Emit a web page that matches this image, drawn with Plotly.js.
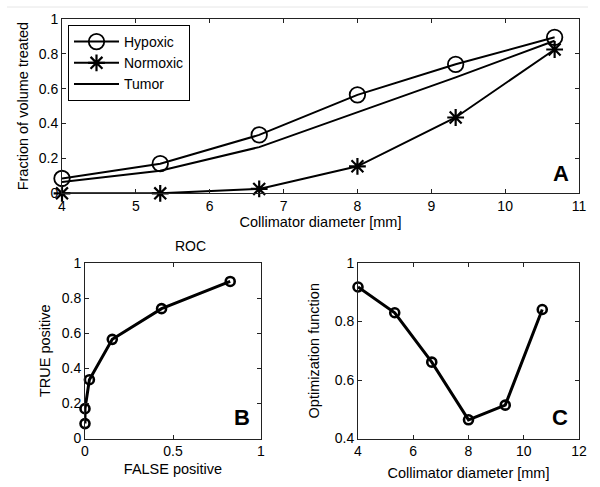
<!DOCTYPE html>
<html>
<head>
<meta charset="utf-8">
<script src="https://cdn.plot.ly/plotly-3.0.1.min.js"></script>
<style>html,body{margin:0;padding:0;background:#fff}#chart{width:600px;height:487px}</style>
</head>
<body>
<div id="chart"></div>
<script>
// Data
const collimator = [4, 5.33, 6.67, 8, 9.33, 10.67];
const hypoxic = [0.085, 0.17, 0.335, 0.565, 0.74, 0.895];
const normoxic = [0, 0, 0.025, 0.155, 0.435, 0.825];
const tumor = [0.065, 0.13, 0.265, 0.465, 0.665, 0.875];
const optimization = [0.918, 0.83, 0.661, 0.464, 0.514, 0.841];
const panelLabels = ["A", "B", "C"];

const FONT = "Liberation Sans, Arial, Helvetica, sans-serif";
const black = "#000";

const traces = [
  {x: collimator, y: hypoxic, name: "Hypoxic", mode: "lines+markers", xaxis: "x", yaxis: "y",
   line: {color: black, width: 2},
   marker: {symbol: "circle-open", size: 15.5, color: black, line: {width: 1.8, color: black}}, cliponaxis: false},
  {x: collimator, y: normoxic, name: "Normoxic", mode: "lines+markers", xaxis: "x", yaxis: "y",
   line: {color: black, width: 2},
   marker: {symbol: "asterisk-open", size: 14, color: black, line: {width: 2.2, color: black}}, cliponaxis: false},
  {x: collimator, y: tumor, name: "Tumor", mode: "lines", xaxis: "x", yaxis: "y",
   line: {color: black, width: 2}, cliponaxis: false},
  {x: normoxic, y: hypoxic, name: "ROC", mode: "lines+markers", xaxis: "x2", yaxis: "y2", showlegend: false,
   line: {color: black, width: 3},
   marker: {symbol: "circle-open", size: 9, color: black, line: {width: 2.6, color: black}}, cliponaxis: false},
  {x: collimator, y: optimization, name: "Optimization", mode: "lines+markers", xaxis: "x3", yaxis: "y3", showlegend: false,
   line: {color: black, width: 3},
   marker: {symbol: "circle-open", size: 9, color: black, line: {width: 2.6, color: black}}, cliponaxis: false}
];

const axisBase = {
  showline: true, mirror: "ticks", linecolor: "#222", linewidth: 1,
  ticks: "inside", ticklen: 4, tickcolor: "#222", tickwidth: 1,
  showgrid: false, zeroline: false,
  tickfont: {family: FONT, size: 14, color: black},
  fixedrange: true
};
function ax(extra) { return Object.assign({}, axisBase, extra); }
const titleFont = {family: FONT, size: 14.5, color: black};

const layout = {
  width: 600, height: 487,
  margin: {l: 0, r: 0, t: 0, b: 0},
  paper_bgcolor: "#fff", plot_bgcolor: "#fff",
  font: {family: FONT, color: black},
  showlegend: true,
  legend: {x: 68/600, y: 1 - 25/487, xanchor: "left", yanchor: "top", bordercolor: black, borderwidth: 1,
           bgcolor: "#fff", font: {family: FONT, size: 14, color: black}, tracegroupgap: 0, itemwidth: 45},
  xaxis: ax({domain: [62/600, 579/600], range: [4, 11], dtick: 1, anchor: "y",
             title: {text: "Collimator diameter [mm]", font: titleFont, standoff: 0}}),
  yaxis: ax({domain: [1 - 193.3/487, 1 - 19/487], range: [0, 1], dtick: 0.2, anchor: "x",
             title: {text: "Fraction of volume treated", font: titleFont, standoff: 6}}),
  xaxis2: ax({domain: [85/600, 261/600], range: [0, 1], dtick: 0.5, anchor: "y2",
              title: {text: "FALSE positive", font: titleFont, standoff: 5}}),
  yaxis2: ax({domain: [1 - 438.5/487, 1 - 263/487], range: [0, 1], dtick: 0.2, anchor: "x2",
              title: {text: "TRUE positive", font: titleFont, standoff: 7}}),
  xaxis3: ax({domain: [358/600, 579/600], range: [4, 12], dtick: 2, anchor: "y3",
              title: {text: "Collimator diameter [mm]", font: titleFont, standoff: 9}}),
  yaxis3: ax({domain: [1 - 438.5/487, 1 - 263/487], range: [0.4, 1], dtick: 0.2, anchor: "x3",
              title: {text: "Optimization function", font: titleFont, standoff: 11}}),
  annotations: [
    {text: "ROC", xref: "paper", yref: "paper", x: 173/600, y: 1 - 246/487, showarrow: false,
     font: {family: FONT, size: 14, color: black}},
    {text: "<b>" + panelLabels[0] + "</b>", xref: "paper", yref: "paper", x: 561/600, y: 1 - 173/487,
     xanchor: "center", yanchor: "middle", showarrow: false, font: {family: FONT, size: 22, color: black}},
    {text: "<b>" + panelLabels[1] + "</b>", xref: "paper", yref: "paper", x: 242/600, y: 1 - 417/487,
     xanchor: "center", yanchor: "middle", showarrow: false, font: {family: FONT, size: 22, color: black}},
    {text: "<b>" + panelLabels[2] + "</b>", xref: "paper", yref: "paper", x: 560/600, y: 1 - 417/487,
     xanchor: "center", yanchor: "middle", showarrow: false, font: {family: FONT, size: 22, color: black}}
  ],
  shapes: [
    {type: "line", xref: "paper", yref: "paper", x0: 7/600, x1: 588/600, y0: 1 - 7/487, y1: 1 - 7/487,
     line: {color: "#e6e6e6", width: 1}}
  ]
};

Plotly.newPlot("chart", traces, layout, {displayModeBar: false, staticPlot: true});
</script>
</body>
</html>
